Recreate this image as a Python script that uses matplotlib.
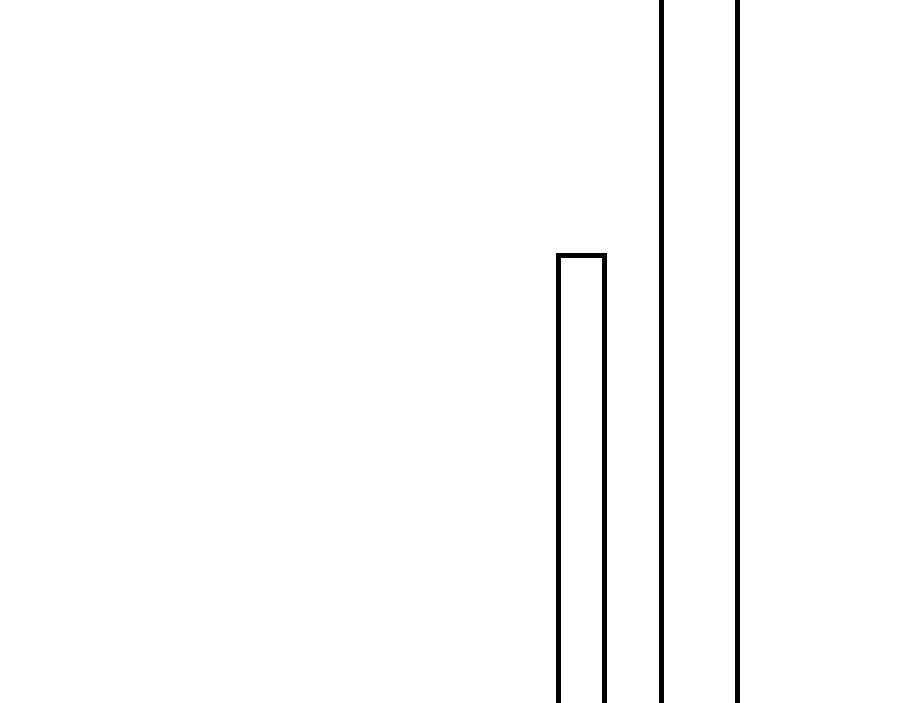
import matplotlib
matplotlib.use("Agg")
import matplotlib.pyplot as plt

categories = ["A", "B"]
values = [56, 150]

fig = plt.figure(figsize=(9, 7.03), dpi=100)
ax = fig.add_axes([0, 0, 1, 1])
pos = list(range(len(categories)))
ax.bar(pos, values, width=[0.388, 0.641], bottom=0, facecolor="white",
       edgecolor="black", linewidth=3.6)
ax.set_xlim(-4.899, 2.696)
ax.set_ylim(5, 85)
ax.axis("off")
fig.savefig("out.png", dpi=100, facecolor="white")
